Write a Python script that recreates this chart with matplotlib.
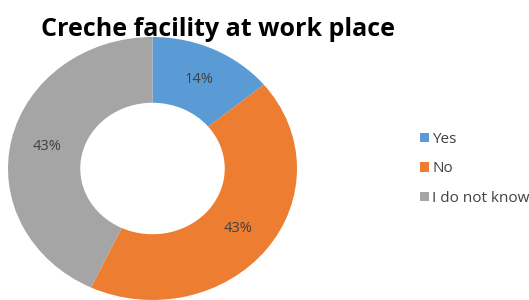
import matplotlib.pyplot as plt

labels = ['Yes', 'No', 'I do not know']
shares = [14, 43, 43]
colors = ['#5B9BD5', '#ED7D31', '#A5A5A5']

fig = plt.figure(figsize=(5.29, 3.0), dpi=100)
fig.patch.set_facecolor('white')

# the source image is squashed vertically, so the ring is an ellipse
ax = fig.add_axes([8 / 529, 0.0, 289 / 529, 263 / 300])
wedges, texts, autotexts = ax.pie(
    shares,
    colors=colors,
    startangle=90,
    counterclock=False,
    radius=1.0,
    autopct='%d%%',
    pctdistance=0.75,
    wedgeprops=dict(width=0.5, linewidth=0),
    textprops=dict(color='#404040', fontsize=10.5, family='Open Sans'),
)
ax.set_aspect('auto')
ax.set_xlim(-1, 1)
ax.set_ylim(-1, 1)

fig.text(218 / 529, 1 - 36 / 300, 'Creche facility at work place',
         ha='center', va='baseline', fontsize=18, fontweight='bold',
         family='Open Sans', color='black')

fig.legend(wedges, labels,
           loc='center left', bbox_to_anchor=(420 / 529, 1 - 169 / 300),
           bbox_transform=fig.transFigure,
           frameon=False,
           prop=dict(family='Open Sans', size=11),
           handlelength=0.6, handleheight=0.6, handletextpad=0.2,
           labelspacing=0.95, borderpad=0, borderaxespad=0,
           labelcolor='#404040')

fig.savefig('out.png', dpi=100)
